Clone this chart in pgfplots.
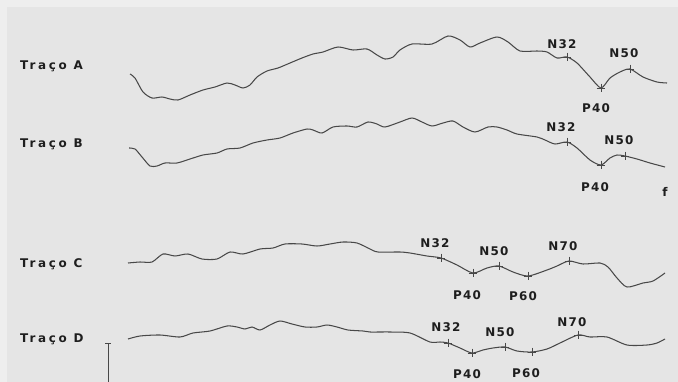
\documentclass[border=0pt]{standalone}
\usepackage{pgfplots}
\pgfplotsset{compat=1.18}
\usepackage{fontspec}
\setmainfont{DejaVu Sans}
\newfontfamily\lblfont[LetterSpace=22]{DejaVu Sans Bold}
\newfontfamily\pkfont[LetterSpace=10]{DejaVu Sans Bold}
\definecolor{bg}{RGB}{229,229,229}
\definecolor{bgtop}{RGB}{238,238,238}
\definecolor{trace}{RGB}{72,72,72}
\definecolor{txt}{RGB}{30,30,30}
\tikzset{
  lbl/.style={font=\lblfont\fontsize{12}{14}\selectfont, text=txt, anchor=west, inner sep=0pt},
  pk/.style={font=\pkfont\fontsize{12}{14}\selectfont, text=txt, inner sep=0pt},
}
\pgfplotsset{
  tr/.style={trace, line width=1.05pt, smooth, tension=0.45, no markers},
  mk/.style={only marks, mark=+, mark size=4.5pt, mark options={trace, line width=0.7pt}},
}
\begin{document}
\begin{tikzpicture}
\begin{axis}[
  width=678bp, height=382bp, scale only axis,
  xmin=0, xmax=678, ymin=0, ymax=382, y dir=reverse,
  hide axis, clip=true,
]
\fill[bg] (axis cs:0,0) rectangle (axis cs:678,382);
\fill[bgtop] (axis cs:0,0) rectangle (axis cs:678,7);
\fill[bgtop] (axis cs:0,0) rectangle (axis cs:7,382);
% Trace A
\addplot[tr] coordinates {(130,74)(135,78)(143,92)(152,98)(162,97)(170,99)(178,100)(190,95)(203,90)(215,87)(227,83)(235,85)(243,88)(250,85)(257,77)(267,71)(278,68)(290,63)(302,58)(313,54)(323,52)(338,47)(353,50)(367,49)(377,55)(385,59)(393,57)(400,50)(412,44)(432,44)(448,36)(460,40)(470,47)(480,43)(497,37)(508,42)(520,51)(537,51)(547,52)(557,58)(567,57)(577,63)(590,77)(601,88)(610,78)(620,72)(630,69)(643,77)(657,82)(667,83)};
\addplot[mk] coordinates {(567,57)(601,88)(630,69)};
% Trace B
\addplot[tr] coordinates {(129,148)(135,149)(142,157)(150,166)(157,166)(165,163)(177,163)(190,159)(203,155)(217,153)(227,149)(240,148)(253,143)(267,140)(280,138)(293,133)(307,129)(313,130)(322,133)(333,127)(347,126)(357,127)(368,122)(377,124)(385,127)(400,122)(412,118)(422,122)(432,126)(443,123)(453,121)(463,127)(475,132)(488,127)(497,127)(507,130)(517,134)(537,137)(545,140)(555,144)(567,142)(577,148)(590,160)(601,165)(610,158)(617,155)(625,156)(637,159)(650,163)(665,167)};
\addplot[mk] coordinates {(567,142)(601,165)(625,156)};
% Trace C
\addplot[tr] coordinates {(128,263)(140,262)(152,262)(163,254)(175,256)(188,254)(202,259)(217,259)(230,252)(243,254)(260,249)(273,248)(285,244)(302,244)(317,246)(330,244)(343,242)(357,243)(370,249)(378,252)(400,252)(410,253)(427,256)(441,258)(457,265)(473,273)(487,268)(499,266)(513,272)(528,276)(547,270)(557,266)(569,261)(583,264)(600,263)(608,267)(617,278)(627,287)(643,283)(653,281)(665,273)};
\addplot[mk] coordinates {(441,258)(473,273)(499,266)(528,276)(569,261)};
% Trace D
\addplot[tr] coordinates {(128,339)(140,336)(160,335)(180,337)(193,333)(210,331)(227,326)(237,327)(245,329)(252,327)(260,330)(270,325)(280,321)(292,324)(305,327)(317,327)(327,325)(337,327)(348,330)(363,331)(370,332)(390,332)(410,333)(430,342)(440,342)(448,343)(460,348)(472,353)(483,350)(493,348)(505,347)(517,351)(532,352)(547,349)(560,343)(578,335)(590,337)(607,337)(627,345)(647,345)(657,343)(665,339)};
\addplot[mk] coordinates {(448,343)(472,353)(505,347)(532,352)(578,335)};
% scale bar
\addplot[trace, line width=0.9pt, sharp plot, no markers] coordinates {(108,343)(108,382)};
\addplot[trace, line width=0.9pt, sharp plot, no markers] coordinates {(105,343)(111,343)};
% labels
\node[lbl] at (axis cs:20,66) {Traço A};
\node[lbl] at (axis cs:20,144) {Traço B};
\node[lbl] at (axis cs:20,264) {Traço C};
\node[lbl] at (axis cs:20,339) {Traço D};
\node[pk] at (axis cs:562,44) {N32};
\node[pk] at (axis cs:596,108) {P40};
\node[pk] at (axis cs:624,53) {N50};
\node[pk] at (axis cs:561,127) {N32};
\node[pk] at (axis cs:595,187) {P40};
\node[pk] at (axis cs:619,140) {N50};
\node[pk] at (axis cs:665,192) {f};
\node[pk] at (axis cs:435,243) {N32};
\node[pk] at (axis cs:494,251) {N50};
\node[pk] at (axis cs:563,246) {N70};
\node[pk] at (axis cs:467,295) {P40};
\node[pk] at (axis cs:523,296) {P60};
\node[pk] at (axis cs:446,327) {N32};
\node[pk] at (axis cs:500,332) {N50};
\node[pk] at (axis cs:572,322) {N70};
\node[pk] at (axis cs:467,374) {P40};
\node[pk] at (axis cs:526,373) {P60};
\end{axis}
\end{tikzpicture}
\end{document}
